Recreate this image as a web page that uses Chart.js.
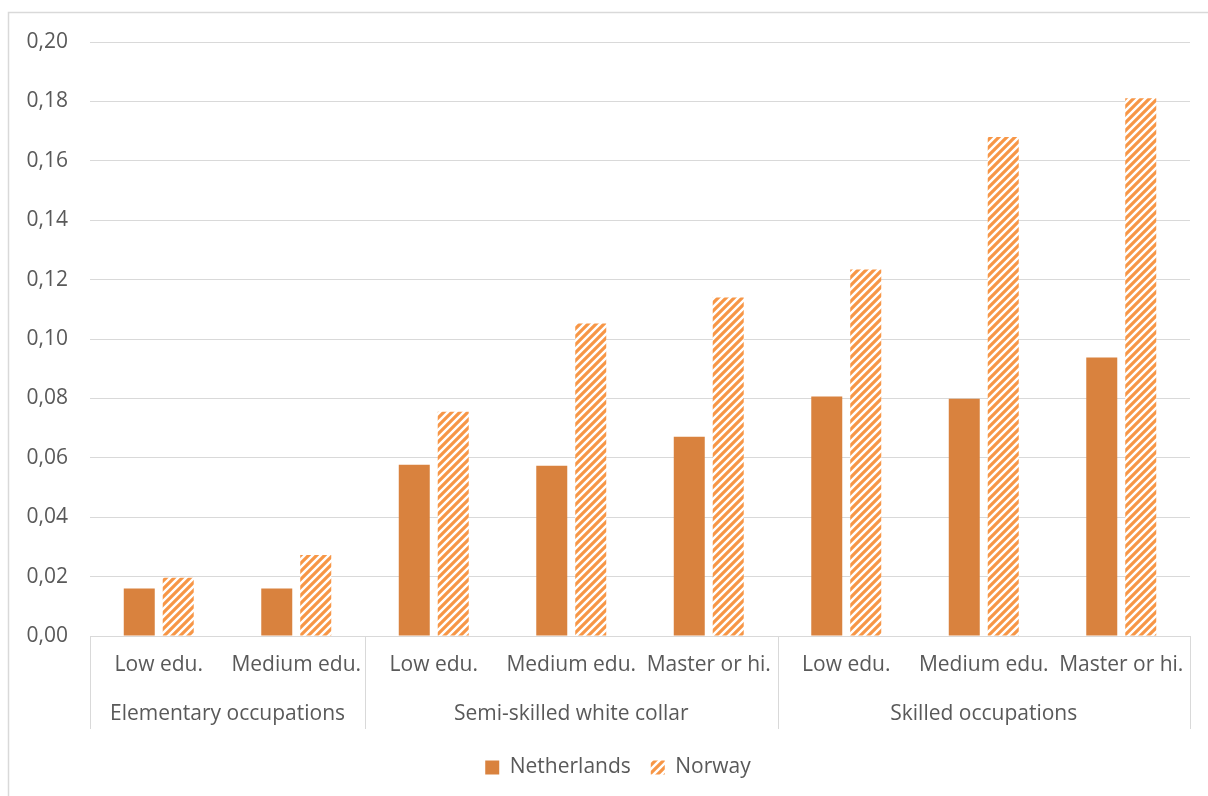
<!DOCTYPE html>
<html>
<head>
<meta charset="utf-8">
<script src="https://cdn.jsdelivr.net/npm/chart.js@4/dist/chart.umd.min.js"></script>
<style>
  html, body { margin: 0; padding: 0; background: #fff; }
  canvas { display: block; }
</style>
</head>
<body>
<canvas id="myChart" width="1208" height="796"></canvas>
<script>
// education levels on the lower axis row, occupation groups on the row below
var subLabels = ['Low edu.', 'Medium edu.', 'Low edu.', 'Medium edu.', 'Master or hi.', 'Low edu.', 'Medium edu.', 'Master or hi.'];
var groupNames = ['Elementary occupations', 'Semi-skilled white collar', 'Skilled occupations'];
var groupSizes = [2, 3, 3];

var netherlands = [0.016, 0.016, 0.0577, 0.0573, 0.0671, 0.0806, 0.0799, 0.0938];
var norway = [0.0196, 0.0273, 0.0755, 0.1052, 0.114, 0.1234, 0.168, 0.1811];

var yTicks = [0, 0.02, 0.04, 0.06, 0.08, 0.10, 0.12, 0.14, 0.16, 0.18, 0.20];

var FONT = '"Open Sans", sans-serif';
var SIZE = 21;
var TEXT = '#595959';
var GRID = '#d9d9d9';

// diagonal stripes for Norway
function stripes(color) {
    var c = document.createElement('canvas');
    c.width = 8;
    c.height = 8;
    var g = c.getContext('2d');
    g.fillStyle = '#fff';
    g.fillRect(0, 0, 8, 8);
    g.strokeStyle = color;
    g.lineWidth = 3.2;
    g.beginPath();
    g.moveTo(-2, 10); g.lineTo(10, -2);
    g.moveTo(-6, 6); g.lineTo(6, -6);
    g.moveTo(2, 14); g.lineTo(14, 2);
    g.stroke();
    return g.createPattern(c, 'repeat');
}

document.addEventListener("DOMContentLoaded", (e) => {
    var ctx = document.getElementById('myChart').getContext('2d');
    var hatch = stripes('#f79646');

    // frame, second label row and group dividers
    var groupAxis = {
        id: 'groupAxis',
        afterLayout: function(chart) {
            // legend sits a little right of the canvas centre
            chart.legend.left += 23;
            chart.legend.right += 23;
        },
        beforeDraw: function(chart) {
            var c = chart.ctx;
            c.save();
            c.fillStyle = '#fff';
            c.fillRect(0, 0, chart.width, chart.height);
            c.strokeStyle = GRID;
            c.lineWidth = 1.5;
            c.strokeRect(8.5, 12.5, chart.width + 10, chart.height + 10);
            c.restore();
        },
        afterDraw: function(chart) {
            var x = chart.scales.x;
            var area = chart.chartArea;
            var c = chart.ctx;
            var half = (x.getPixelForValue(1) - x.getPixelForValue(0)) / 2;
            var bottom = area.bottom + 93;
            c.save();
            c.strokeStyle = GRID;
            c.lineWidth = 1;
            c.fillStyle = TEXT;
            c.font = SIZE + 'px ' + FONT;
            c.textAlign = 'center';
            c.textBaseline = 'middle';
            var idx = 0;
            for (var i = 0; i < groupNames.length; i++) {
                var left = x.getPixelForValue(idx) - half;
                var right = x.getPixelForValue(idx + groupSizes[i] - 1) + half;
                c.beginPath();
                c.moveTo(Math.round(left) + 0.5, area.bottom);
                c.lineTo(Math.round(left) + 0.5, bottom);
                c.moveTo(Math.round(right) + 0.5, area.bottom);
                c.lineTo(Math.round(right) + 0.5, bottom);
                c.stroke();
                c.fillText(groupNames[i], (left + right) / 2, area.bottom + 78);
                idx += groupSizes[i];
            }
            c.restore();
        }
    };

    var chart = new Chart(ctx, {
        type: 'bar',
        data: {
            labels: subLabels,
            datasets: [{
                label: 'Netherlands',
                data: netherlands,
                backgroundColor: '#d9823e',
                borderWidth: 0
            }, {
                label: 'Norway',
                data: norway,
                backgroundColor: hatch,
                borderWidth: 0
            }]
        },
        options: {
            responsive: false,
            animation: false,
            categoryPercentage: 0.567,
            barPercentage: 0.795,
            layout: {
                padding: { top: 42, right: 18, bottom: 8, left: 0 }
            },
            plugins: {
                tooltip: { enabled: false },
                legend: {
                    position: 'bottom',
                    labels: {
                        font: { family: FONT, size: SIZE },
                        color: TEXT,
                        boxWidth: 14,
                        boxHeight: 14,
                        padding: 20
                    }
                }
            },
            scales: {
                x: {
                    grid: { display: false, drawTicks: false },
                    border: { display: true, color: GRID, width: 1 },
                    ticks: {
                        font: { family: FONT, size: SIZE },
                        color: TEXT,
                        padding: 16,
                        autoSkip: false,
                        maxRotation: 0
                    },
                    afterFit: function(scale) { scale.height = 101; }
                },
                y: {
                    min: 0,
                    max: 0.2,
                    grid: { color: GRID, lineWidth: 1, drawTicks: false },
                    border: { display: false },
                    afterBuildTicks: function(scale) {
                        scale.ticks = yTicks.map(function(v) { return { value: v }; });
                    },
                    ticks: {
                        font: { family: FONT, size: SIZE },
                        color: TEXT,
                        padding: 22,
                        callback: function(v) { return v.toFixed(2).replace('.', ','); }
                    },
                    afterFit: function(scale) { scale.width = 90; }
                }
            }
        },
        plugins: [groupAxis]
    });
});
</script>
</body>
</html>
